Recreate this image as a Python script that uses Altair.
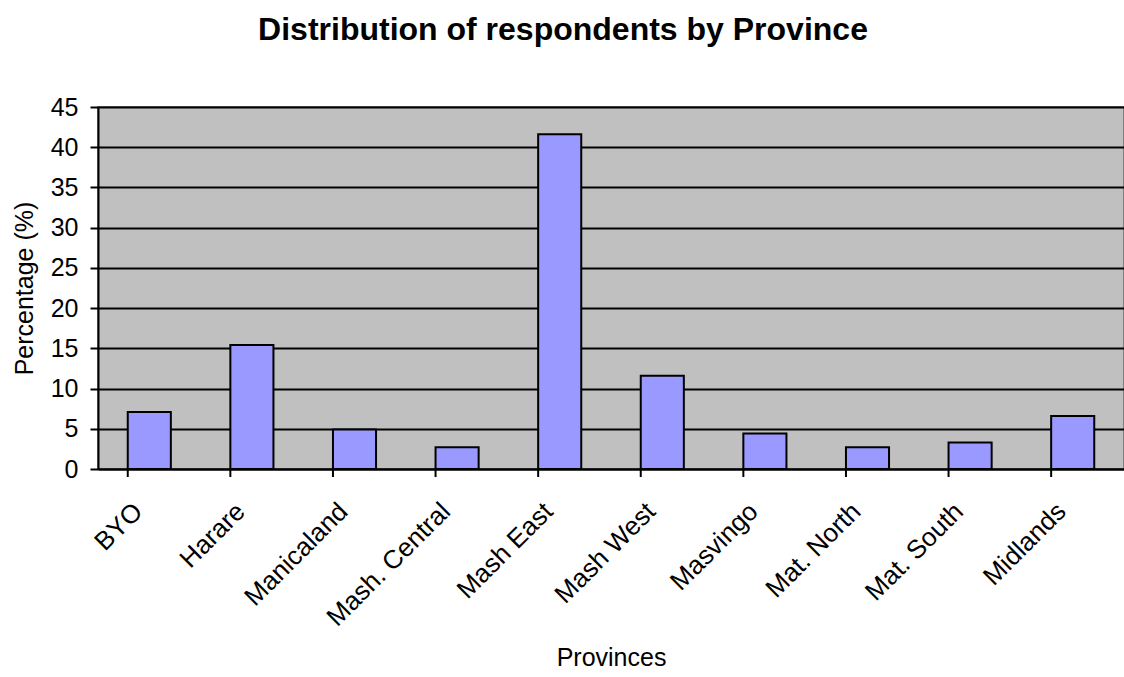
import altair as alt
import pandas as pd

provinces = ["BYO", "Harare", "Manicaland", "Mash. Central", "Mash East",
             "Mash West", "Masvingo", "Mat. North", "Mat. South", "Midlands"]
percent = [7.1, 15.4, 4.9, 2.7, 41.6, 11.6, 4.4, 2.7, 3.3, 6.6]

df = pd.DataFrame({"Province": provinces, "Percent": percent})

W, H = 1026, 362
FONT = "Liberation Sans"

x_enc = alt.X(
    "Province:N",
    sort=provinces,
    title="Provinces",
    scale=alt.Scale(paddingInner=0.58, paddingOuter=0.29),
    axis=alt.Axis(
        labelAngle=-45,
        labelAlign="right",
        labelBaseline="middle",
        labelPadding=38,
        labelOffset=-11,
        ticks=False,
        tickSize=0,
        labelFont=FONT,
        labelFontSize=26,
        labelColor="black",
        domainColor="black",
        domainWidth=2,
        titleFont=FONT,
        titleFontSize=25,
        titleFontWeight="normal",
        titleColor="black",
        titleY=188,
        titleBaseline="middle",
        grid=False,
    ),
)

y_enc = alt.Y(
    "Percent:Q",
    title="Percentage (%)",
    scale=alt.Scale(domain=[0, 45], nice=False),
    axis=alt.Axis(
        values=[0, 5, 10, 15, 20, 25, 30, 35, 40, 45],
        format="d",
        tickSize=8,
        tickWidth=2,
        tickColor="black",
        labelPadding=12,
        labelFont=FONT,
        labelFontSize=25,
        labelColor="black",
        domainColor="black",
        domainWidth=2,
        gridColor="black",
        gridWidth=2,
        gridOpacity=1,
        titleFont=FONT,
        titleFontSize=25,
        titleFontWeight="normal",
        titleColor="black",
        titlePadding=13,
    ),
)

bars = alt.Chart(df).mark_bar(
    color="#9999FF", stroke="black", strokeWidth=2
).encode(x=x_enc, y=y_enc)

ticks = alt.Chart(df).mark_rule(color="black", strokeWidth=2).encode(
    x=alt.X("Province:N", sort=provinces, bandPosition=0),
    y=alt.value(H),
    y2=alt.value(H + 8),
)

chart = alt.layer(bars, ticks).properties(
    width=W,
    height=H,
    autosize=alt.AutoSizeParams(type="none"),
    padding={"left": 98, "top": 107, "right": 0, "bottom": 208},
    title=alt.TitleParams(
        "Distribution of respondents by Province",
        font=FONT,
        fontSize=32,
        fontWeight="bold",
        color="black",
        anchor="middle",
        dx=-48,
        baseline="alphabetic",
        offset=23,
    ),
).configure(
    background="white"
).configure_view(
    fill="#C0C0C0", stroke="#808080", strokeWidth=2
)

chart.save("out.html", embed_options={"renderer": "svg", "actions": False})
